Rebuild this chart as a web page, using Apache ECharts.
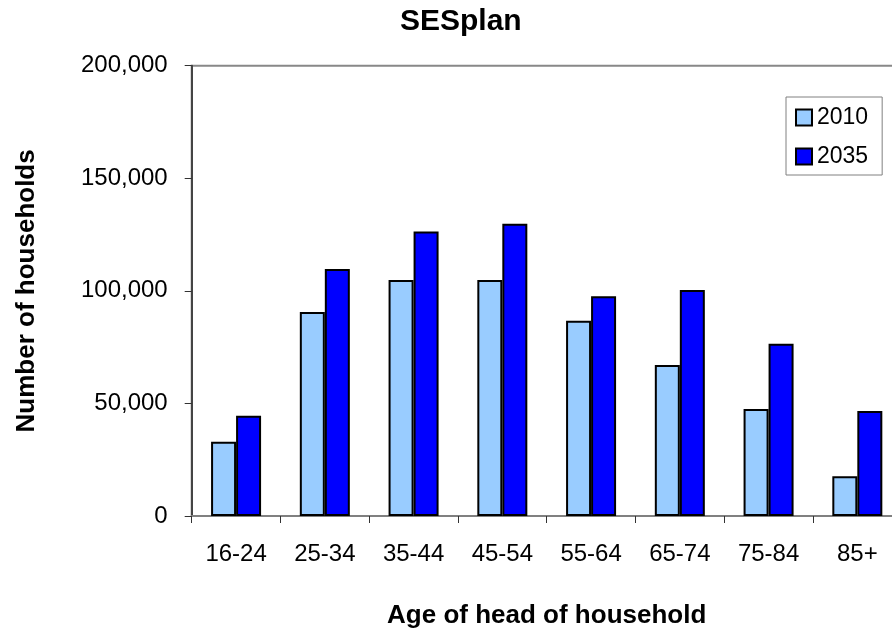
<!DOCTYPE html>
<html>
<head>
<meta charset="utf-8">
<script src="https://cdn.jsdelivr.net/npm/echarts@6/dist/echarts.min.js"></script>
<style>
html,body{margin:0;padding:0;background:#fff;}
#chart{width:892px;height:635px;}
</style>
</head>
<body>
<div id="chart"></div>
<script>
const categories = ['16-24', '25-34', '35-44', '45-54', '55-64', '65-74', '75-84', '85+'];
const values2010 = [33000, 90600, 104800, 104800, 86700, 67100, 47500, 17600];
const values2035 = [44500, 109700, 126400, 129800, 97600, 100400, 76500, 46600];
const seriesNames = ['2010', '2035'];
const yTicks = { min: 0, max: 200000, interval: 50000 };

const FONT = '"Liberation Sans", Arial, Helvetica, sans-serif';
const chart = echarts.init(document.getElementById('chart'), null, { renderer: 'canvas' });

chart.setOption({
  backgroundColor: '#ffffff',
  animation: false,
  textStyle: { fontFamily: FONT },
  title: {
    text: 'SESplan',
    left: 400,
    top: 7,
    padding: 0,
    textStyle: { fontFamily: FONT, fontSize: 30, fontWeight: 'bold', color: '#000' }
  },
  legend: {
    orient: 'vertical',
    left: 786,
    top: 97,
    padding: [9, 14, 7, 9],
    itemGap: 16,
    itemWidth: 16,
    itemHeight: 16,
    icon: 'rect',
    borderColor: '#808080',
    borderWidth: 1,
    backgroundColor: '#fff',
    textStyle: { fontFamily: FONT, fontSize: 23, color: '#000' },
    itemStyle: { borderColor: '#000', borderWidth: 2 },
    data: seriesNames
  },
  grid: {
    left: 191.7,
    top: 65.7,
    width: 710,
    bottom: 119,
    show: true,
    borderColor: '#888',
    borderWidth: 2,
    containLabel: false,
    outerBoundsMode: 'none'
  },
  xAxis: {
    type: 'category',
    data: categories,
    boundaryGap: true,
    name: 'Age of head of household',
    nameLocation: 'middle',
    nameGap: 87,
    nameTextStyle: { fontFamily: FONT, fontSize: 26, fontWeight: 'bold', color: '#000' },
    axisLine: { show: true, lineStyle: { color: '#808080', width: 2 } },
    axisTick: { show: true, alignWithLabel: false, length: 7, lineStyle: { color: '#333', width: 1 } },
    axisLabel: { fontFamily: FONT, fontSize: 24, color: '#000', margin: 26, interval: 0 },
    splitLine: { show: false }
  },
  yAxis: {
    type: 'value',
    min: yTicks.min,
    max: yTicks.max,
    interval: yTicks.interval,
    name: 'Number of households',
    nameLocation: 'middle',
    nameRotate: 90,
    nameGap: 152,
    nameTextStyle: { fontFamily: FONT, fontSize: 26, fontWeight: 'bold', color: '#000' },
    axisLine: { show: true, lineStyle: { color: '#444', width: 2 } },
    axisTick: { show: true, length: 7, lineStyle: { color: '#333', width: 1 } },
    axisLabel: {
      fontFamily: FONT, fontSize: 24, color: '#000', margin: 24,
      formatter: v => v.toLocaleString('en-US')
    },
    splitLine: { show: false }
  },
  series: [
    {
      name: seriesNames[0],
      type: 'bar',
      data: values2010,
      barWidth: 25,
      barGap: '0%',
      itemStyle: { color: '#99CCFF', borderColor: '#000', borderWidth: 2 }
    },
    {
      name: seriesNames[1],
      type: 'bar',
      data: values2035,
      barWidth: 25,
      barGap: '0%',
      itemStyle: { color: '#0000FF', borderColor: '#000', borderWidth: 2 }
    }
  ]
});
</script>
</body>
</html>
